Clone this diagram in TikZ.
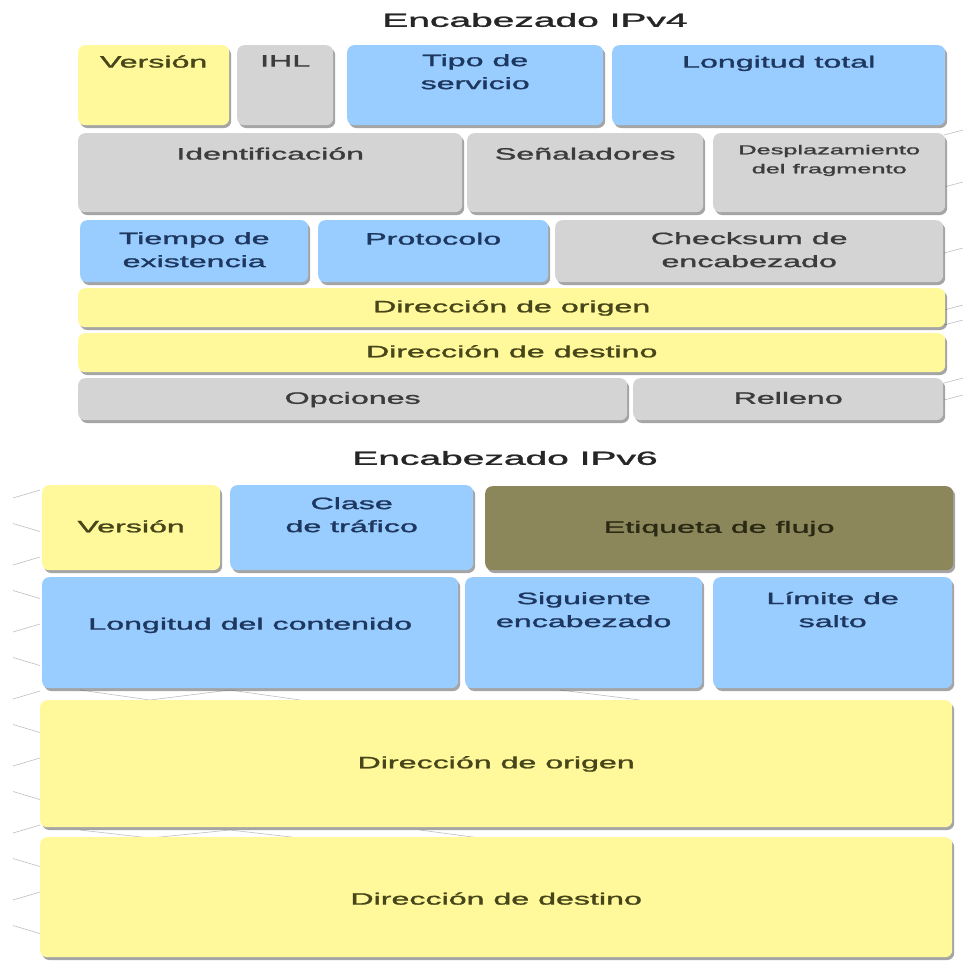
\documentclass[tikz,border=0pt]{standalone}
\usepackage{graphicx}
\usepackage{fontspec}
\setmainfont[FakeBold=1.2]{Liberation Sans}
\usetikzlibrary{shadows,calc}
\definecolor{yel}{HTML}{FFF99B}
\definecolor{blu}{HTML}{99CCFF}
\definecolor{gry}{HTML}{D4D4D4}
\definecolor{olv}{HTML}{8C875A}
\definecolor{ytxt}{HTML}{46461A}
\definecolor{btxt}{HTML}{1E375F}
\definecolor{gtxt}{HTML}{3C3C3C}
\definecolor{otxt}{HTML}{2A2A14}
\newcommand\sx[1]{\scalebox{1.95}[1]{\begin{tabular}{@{}c@{}}#1\end{tabular}}}
\newcommand\sxt[1]{\scalebox{2.05}[1]{#1}}
\newcommand\fld[6]{\node[fld,#2,minimum width={(#5-#3)*1pt},minimum height={(#6-#4)*1pt},anchor=north west] (#1) at (#3,#4) {};}
\tikzset{
  fld/.style={rounded corners=7pt, inner sep=0pt, draw=none,
    drop shadow={shadow xshift=2pt, shadow yshift=-2.8pt, opacity=0.5, fill=black!70}},
  fy/.style={fill=yel}, fb/.style={fill=blu}, fg/.style={fill=gry}, fo/.style={fill=olv},
  txt/.style={inner sep=0pt, font=\fontsize{16.5}{23}\selectfont},
  ty/.style={txt, text=ytxt}, tb/.style={txt, text=btxt}, tg/.style={txt, text=gtxt}, to/.style={txt, text=otxt},
  ttl/.style={inner sep=0pt, font=\fontsize{19}{23}\selectfont, text=black!85},
  deco/.style={draw=black!25, line width=0.6pt}
}
\begin{document}
\begin{tikzpicture}[x=1pt,y=-1pt]
\useasboundingbox[fill=white] (0,0) rectangle (963,962);
% faint decorative network lines
\foreach \i in {0,...,13}{
  \pgfmathsetmacro\yy{493+\i*33.5}
  \ifodd\i
    \draw[deco] (13,\yy-3) -- (40,\yy+5);
  \else
    \draw[deco] (13,\yy+5) -- (40,\yy-3);
  \fi
}
\foreach \yy in {135,187,253,310,325,383,400}{
  \draw[deco] (944,\yy) -- (963,\yy-5);
}
\draw[deco] (80,690) -- (150,700) -- (230,690) -- (300,700);
\draw[deco] (560,690) -- (640,700);
\draw[deco] (80,830) -- (150,838) -- (230,830) -- (300,838);
\draw[deco] (420,830) -- (480,838);

% titles
\node[ttl] (t4) at (535,20) {\sxt{Encabezado IPv4}};
\node[ttl] (t6) at (505,458) {\sxt{Encabezado IPv6}};

% IPv4
\fld{v4ver}{fy}{78}{45}{229}{125}
\fld{v4ihl}{fg}{237}{45}{333}{125}
\fld{v4tos}{fb}{347}{45}{603}{125}
\fld{v4len}{fb}{612}{45}{945}{125}
\fld{v4id}{fg}{78}{133}{462}{212}
\fld{v4flags}{fg}{467}{133}{703}{212}
\fld{v4frag}{fg}{713}{133}{945}{212}
\fld{v4ttl}{fb}{80}{220}{308}{282}
\fld{v4proto}{fb}{318}{220}{548}{282}
\fld{v4chk}{fg}{555}{220}{943}{282}
\fld{v4src}{fy}{78}{288}{945}{327}
\fld{v4dst}{fy}{78}{333}{945}{372}
\fld{v4opt}{fg}{78}{378}{627}{420}
\fld{v4pad}{fg}{633}{378}{943}{420}

\node[ty] (v4verT) at ($(v4ver.north)+(0,18)$) {\sx{Versión}};
\node[tg] (v4ihlT) at ($(v4ihl.north)+(0,17)$) {\sx{IHL}};
\node[tb] (v4tosT) at ($(v4tos.north)+(0,28)$) {\sx{Tipo de\\servicio}};
\node[tb] (v4lenT) at ($(v4len.north)+(0,18)$) {\sx{Longitud total}};
\node[tg] (v4idT) at ($(v4id.north)+(0,22)$) {\sx{Identificación}};
\node[tg] (v4flagsT) at ($(v4flags.north)+(0,22)$) {\sx{Señaladores}};
\node[tg,font=\fontsize{13}{19}\selectfont] (v4fragT) at ($(v4frag.north)+(0,27)$) {\sx{Desplazamiento\\del fragmento}};
\node[tb] (v4ttlT) at ($(v4ttl.north)+(0,31)$) {\sx{Tiempo de\\existencia}};
\node[tb] (v4protoT) at ($(v4proto.north)+(0,20)$) {\sx{Protocolo}};
\node[tg] (v4chkT) at ($(v4chk.north)+(0,31)$) {\sx{Checksum de\\encabezado}};
\node[ty] (v4srcT) at (v4src.center) {\sx{Dirección de origen}};
\node[ty] (v4dstT) at (v4dst.center) {\sx{Dirección de destino}};
\node[tg] (v4optT) at (v4opt.center) {\sx{Opciones}};
\node[tg] (v4padT) at (v4pad.center) {\sx{Relleno}};

% IPv6
\fld{v6ver}{fy}{42}{485}{220}{570}
\fld{v6tc}{fb}{230}{485}{473}{570}
\fld{v6flow}{fo}{485}{486}{953}{570}
\fld{v6plen}{fb}{42}{577}{458}{688}
\fld{v6nh}{fb}{465}{577}{702}{688}
\fld{v6hop}{fb}{713}{577}{952}{688}
\fld{v6src}{fy}{40}{700}{952}{827}
\fld{v6dst}{fy}{40}{837}{952}{957}

\node[ty] (v6verT) at (v6ver.center) {\sx{Versión}};
\node[tb] (v6tcT) at ($(v6tc.north)+(0,31)$) {\sx{Clase\\de tráfico}};
\node[to] (v6flowT) at (v6flow.center) {\sx{Etiqueta de flujo}};
\node[tb] (v6plenT) at ($(v6plen.north)+(0,48)$) {\sx{Longitud del contenido}};
\node[tb] (v6nhT) at ($(v6nh.north)+(0,34)$) {\sx{Siguiente\\encabezado}};
\node[tb] (v6hopT) at ($(v6hop.north)+(0,34)$) {\sx{Límite de\\salto}};
\node[ty] (v6srcT) at (v6src.center) {\sx{Dirección de origen}};
\node[ty] (v6dstT) at ($(v6dst.north)+(0,63)$) {\sx{Dirección de destino}};
\end{tikzpicture}
\end{document}
